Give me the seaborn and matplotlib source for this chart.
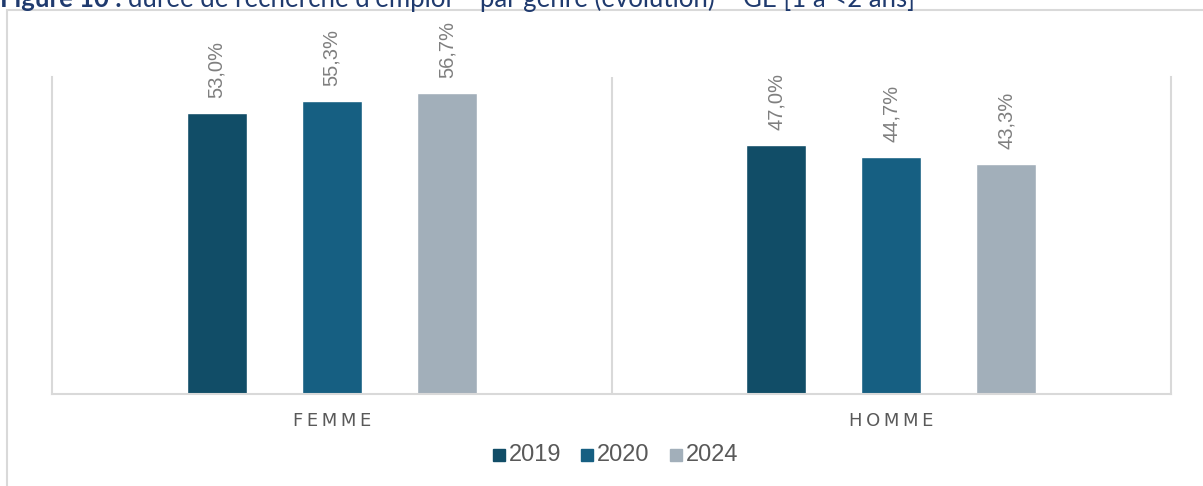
import numpy as np
import pandas as pd
import matplotlib
matplotlib.use("Agg")
import matplotlib.pyplot as plt
from matplotlib.patches import Rectangle
import seaborn as sns

# Data
genres = ["FEMME", "HOMME"]
years = ["2019", "2020", "2024"]
share_2019 = [53.0, 47.0]
share_2020 = [55.3, 44.7]
share_2024 = [56.7, 43.3]
colors = ["#114D67", "#165F82", "#A2AFBA"]

rows = []
for year, vals in zip(years, [share_2019, share_2020, share_2024]):
    for g, v in zip(genres, vals):
        rows.append({"genre": g, "annee": year, "part": v})
df = pd.DataFrame(rows)

sns.set_theme(style="white")
plt.rcParams["font.family"] = ["Liberation Sans", "DejaVu Sans"]

W, H = 1203, 486
fig = plt.figure(figsize=(W / 100, H / 100), dpi=100)

# axes placement in pixels
left, right, top, bottom = 52, 1171, 77, 394
ax = fig.add_axes([left / W, 1 - bottom / H, (right - left) / W, (bottom - top) / H])

sns.barplot(data=df, x="genre", y="part", hue="annee", order=genres,
            hue_order=years, palette=colors, width=0.617, gap=0.48,
            saturation=1, ax=ax, legend=False, errorbar=None)

ax.set_xlim(-0.5, 1.5)
ax.set_ylim(0, 59.8)
ax.set_xlabel("")
ax.set_ylabel("")
ax.set_yticks([])
ax.set_xticks([])

grid_col = "#D9D9D9"
for s in ["left", "right", "bottom"]:
    ax.spines[s].set_color(grid_col)
    ax.spines[s].set_linewidth(1.5)
ax.spines["top"].set_visible(False)
ax.axvline(0.5, color=grid_col, lw=1.5)

# value labels above bars
for cont in ax.containers:
    for bar in cont:
        h = bar.get_height()
        ax.annotate(f"{h:.1f}%".replace(".", ","),
                    (bar.get_x() + bar.get_width() / 2, h),
                    xytext=(0, 11), textcoords="offset points",
                    rotation=90, ha="center", va="bottom",
                    fontsize=14.5, color="#7F7F7F", annotation_clip=False)

# category labels with wide tracking
for i, g in enumerate(genres):
    ax.text(i, -0.085, "\u2009".join(g), transform=ax.get_xaxis_transform(),
            ha="center", va="center", fontsize=13, color="#595959",
            family=["DejaVu Sans"])

# legend
legend_font = ["Liberation Sans Narrow", "Liberation Sans", "DejaVu Sans"]
lx = [493, 581, 670]
for x0, year, c in zip(lx, years, colors):
    fig.patches.append(Rectangle((x0 / W, 1 - 461 / H), 12 / W, 12 / H,
                                 transform=fig.transFigure, color=c))
    fig.text((x0 + 16) / W, 1 - 455 / H, year, ha="left", va="center",
             fontsize=17, color="#595959", family=legend_font)

# outer frame
fig.patches.append(Rectangle((7 / W, -0.1), 1.2, 1 - 10 / H + 0.1,
                             transform=fig.transFigure, fill=False,
                             edgecolor=grid_col, lw=1.5))

# heading
t1 = fig.text(0.0, 1 - 7 / H, "Figure 10 : ", ha="left", va="baseline",
              fontsize=18.5, fontweight="bold", color="#1F3A6E",
              family=["Lato", "DejaVu Sans"])
fig.canvas.draw()
bb = t1.get_window_extent()
fig.text(bb.x1 / W, 1 - 7 / H,
         "durée de recherche d’emploi – par genre (évolution) – GE [1 à <2 ans]",
         ha="left", va="baseline", fontsize=18.5, color="#1F3A6E",
         family=["Lato", "DejaVu Sans"])

fig.savefig("out.png", dpi=100)
